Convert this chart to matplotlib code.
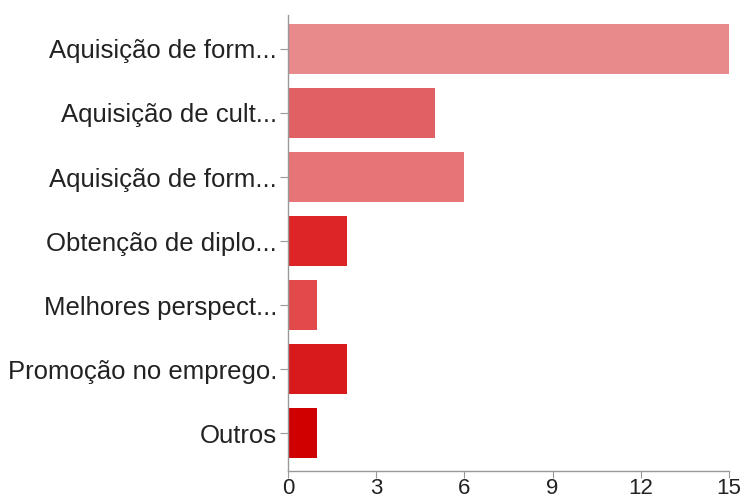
import matplotlib
matplotlib.use("Agg")
import matplotlib.pyplot as plt

categorias = ["Aquisição de form...", "Aquisição de cult...", "Aquisição de form...",
              "Obtenção de diplo...", "Melhores perspect...", "Promoção no emprego.", "Outros"]
respostas = [15, 5, 6, 2, 1, 2, 1]
cores = ["#E8898B", "#E06063", "#E77577", "#DD2426", "#E2494B", "#D91A1C", "#CE0000"]
ticks_x = [0, 3, 6, 9, 12, 15]

plt.rcParams['font.family'] = ['Liberation Sans', 'DejaVu Sans']

fig = plt.figure(figsize=(7.45, 5.03), dpi=100)
ax = fig.add_axes([0.3866, 0.0636, 0.5919, 0.9066])

pos = list(range(len(categorias)))
ax.barh(pos, respostas, height=0.78, color=cores)

ax.set_xlim(0, 15)
ax.set_ylim(6.59, -0.53)
ax.set_xticks(ticks_x)
ax.set_xticklabels([str(t) for t in ticks_x], fontsize=16, color='#222222')
ax.set_yticks(pos)
ax.set_yticklabels(categorias, fontsize=18.5, color='#222222')

for s in ['top', 'right']:
    ax.spines[s].set_visible(False)
for s in ['left', 'bottom']:
    ax.spines[s].set_color('#999999')
    ax.spines[s].set_linewidth(1)
ax.tick_params(axis='x', length=5, color='#999999', pad=0)
ax.tick_params(axis='y', length=6, color='#999999', pad=2)

fig.savefig('out.png', dpi=100)
